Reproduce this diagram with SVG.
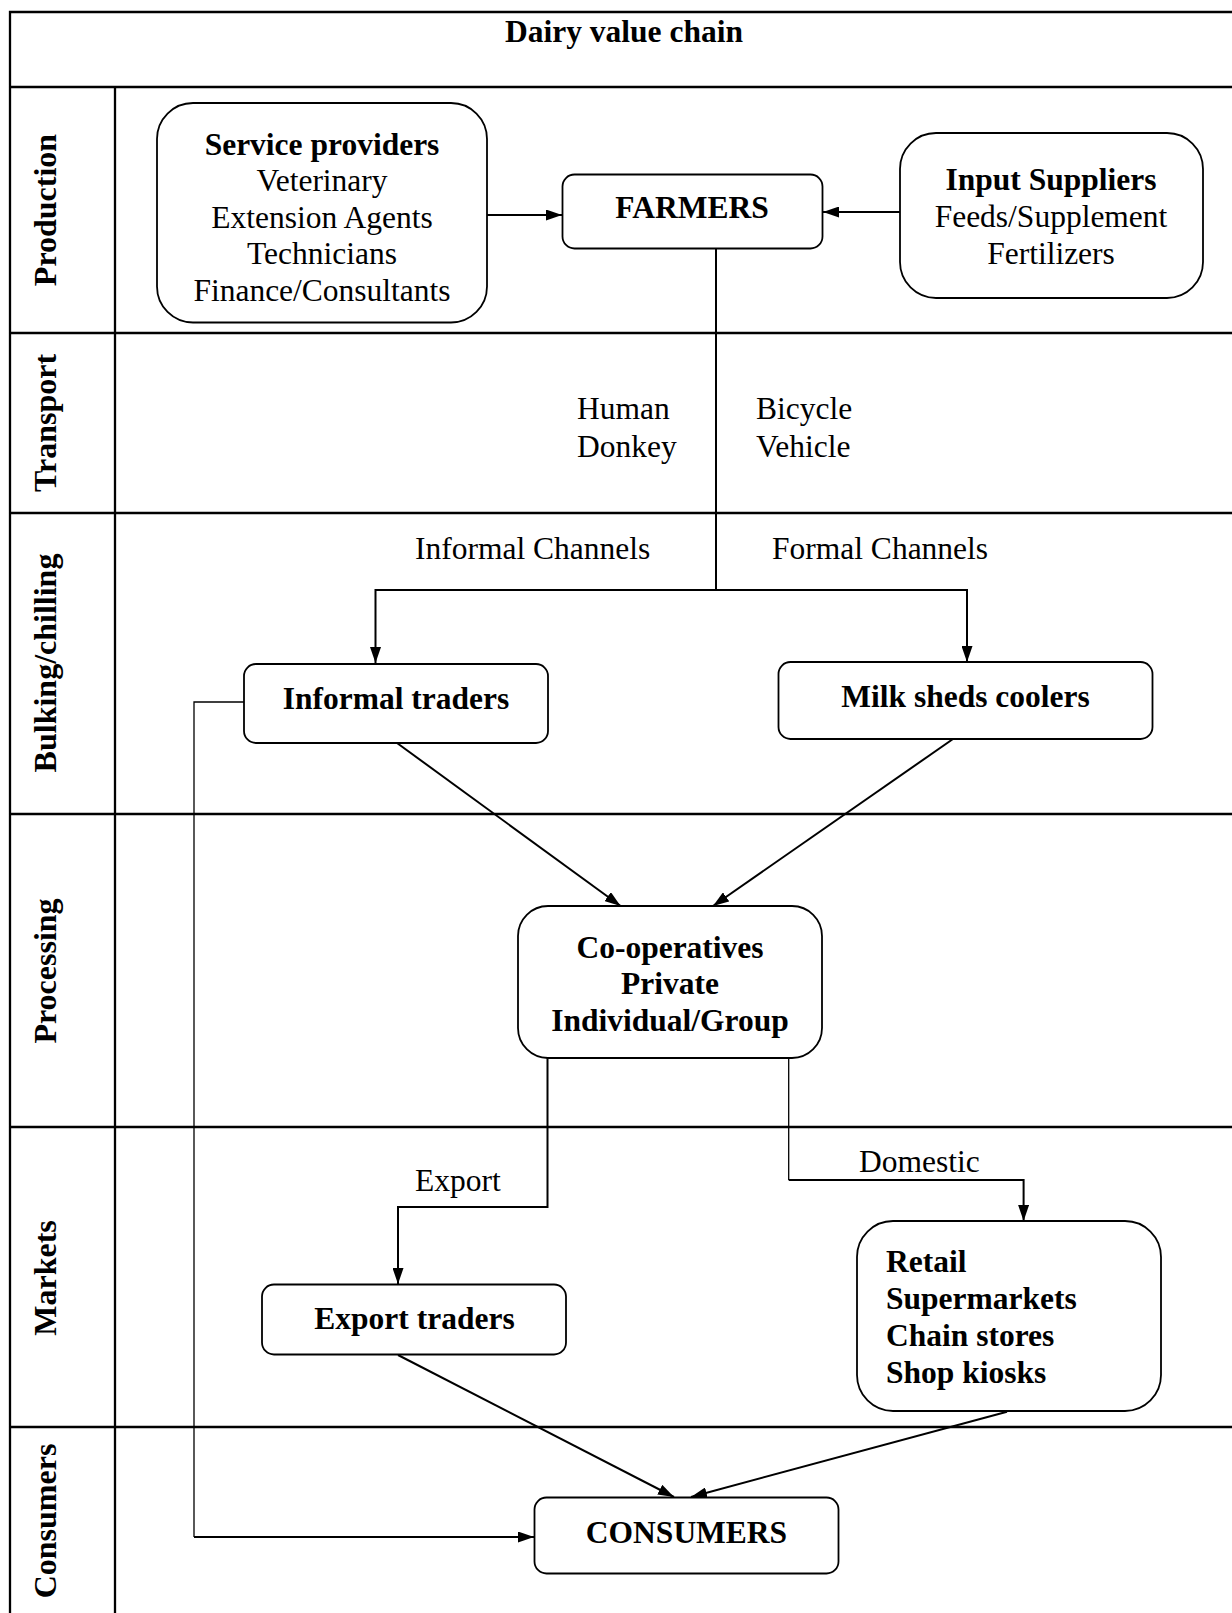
<svg xmlns="http://www.w3.org/2000/svg" width="1232" height="1613" viewBox="0 0 1232 1613">
<style>
text{font-family:"Liberation Serif","Times New Roman",serif;font-size:31.5px;fill:#000}
.b{font-weight:bold}
.c{text-anchor:middle}
.lane{font-weight:bold;text-anchor:middle;font-size:32px}
.grid{stroke:#000;stroke-width:2.3;fill:none}
.box{fill:#fff;stroke:#000;stroke-width:1.8}
.con{fill:none;stroke:#000;stroke-width:2}
.thin{stroke-width:1.3}
</style>
<defs>
<marker id="ah" viewBox="0 0 16 11" refX="16" refY="5.5" markerWidth="16" markerHeight="11" markerUnits="userSpaceOnUse" orient="auto">
<path d="M0,0 L16,5.5 L0,11 z" fill="#000"/>
</marker>
</defs>
<rect width="1232" height="1613" fill="#fff"/>
<g id="grid">
<path class="grid" d="M10,1613 V12 H1232 M10,87 H1232 M115,87 V1613 M10,333 H1232 M10,513 H1232 M10,814 H1232 M10,1127 H1232 M10,1427 H1232"/>
<text class="b c" x="624" y="42">Dairy value chain</text>
<text class="lane" transform="translate(56,210) rotate(-90)">Production</text>
<text class="lane" transform="translate(56,423) rotate(-90)">Transport</text>
<text class="lane" transform="translate(56,663) rotate(-90)">Bulking/chilling</text>
<text class="lane" transform="translate(56,971) rotate(-90)">Processing</text>
<text class="lane" transform="translate(56,1278) rotate(-90)">Markets</text>
<text class="lane" transform="translate(56,1521) rotate(-90)">Consumers</text>
</g>
<g id="connectors">
<path class="con" d="M487,215 H562" marker-end="url(#ah)"/>
<path class="con" d="M900,212 H823" marker-end="url(#ah)"/>
<path class="con" d="M716,248 V590"/>
<path class="con" d="M716,590 H375.5 V663" marker-end="url(#ah)"/>
<path class="con" d="M716,590 H967 V662" marker-end="url(#ah)"/>
<path class="con" d="M397,743 L620.6,906" marker-end="url(#ah)"/>
<path class="con" d="M953,739 L713,906" marker-end="url(#ah)"/>
<path class="con" d="M547.5,1058 V1207 H398 V1284" marker-end="url(#ah)"/>
<path class="con thin" d="M788.7,1058 V1180"/>
<path class="con" d="M788.7,1180 H1023.6 V1221" marker-end="url(#ah)"/>
<path class="con thin" d="M244,702 H194 V1537"/>
<path class="con" d="M194,1537 H534" marker-end="url(#ah)"/>
<path class="con" d="M398,1355 L674,1497" marker-end="url(#ah)"/>
<path class="con" d="M1007,1411.7 L691,1497" marker-end="url(#ah)"/>
<text x="577" y="419">Human</text>
<text x="577" y="457">Donkey</text>
<text x="756" y="419">Bicycle</text>
<text x="756" y="457">Vehicle</text>
<text x="415" y="559">Informal Channels</text>
<text x="772" y="559">Formal Channels</text>
<text x="415" y="1191">Export</text>
<text x="859" y="1172">Domestic</text>
</g>
<g id="service-providers">
<rect class="box" x="157" y="103" width="330" height="219.5" rx="36"/>
<text class="b c" x="322" y="155">Service providers</text>
<text class="c" x="322" y="191">Veterinary</text>
<text class="c" x="322" y="228">Extension Agents</text>
<text class="c" x="322" y="264">Technicians</text>
<text class="c" x="322" y="301">Finance/Consultants</text>
</g>
<g id="farmers">
<rect class="box" x="562.5" y="174.5" width="260" height="74" rx="12"/>
<text class="b c" x="692" y="218">FARMERS</text>
</g>
<g id="input-suppliers">
<rect class="box" x="900" y="133" width="303" height="165" rx="36"/>
<text class="b c" x="1051" y="190">Input Suppliers</text>
<text class="c" x="1051" y="227">Feeds/Supplement</text>
<text class="c" x="1051" y="264">Fertilizers</text>
</g>
<g id="informal-traders">
<rect class="box" x="244" y="664" width="304" height="79" rx="12"/>
<text class="b c" x="396" y="709">Informal traders</text>
</g>
<g id="milk-sheds-coolers">
<rect class="box" x="778.5" y="662" width="374" height="77" rx="12"/>
<text class="b c" x="965.5" y="707">Milk sheds coolers</text>
</g>
<g id="processors">
<rect class="box" x="518" y="906" width="304" height="152" rx="30"/>
<text class="b c" x="670" y="958">Co-operatives</text>
<text class="b c" x="670" y="994">Private</text>
<text class="b c" x="670" y="1031">Individual/Group</text>
</g>
<g id="export-traders">
<rect class="box" x="262" y="1284.5" width="304" height="70" rx="12"/>
<text class="b c" x="414.5" y="1329">Export traders</text>
</g>
<g id="retail">
<rect class="box" x="857" y="1221" width="304" height="190" rx="36"/>
<text class="b" x="886" y="1272">Retail</text>
<text class="b" x="886" y="1309">Supermarkets</text>
<text class="b" x="886" y="1346">Chain stores</text>
<text class="b" x="886" y="1383">Shop kiosks</text>
</g>
<g id="consumers">
<rect class="box" x="534.5" y="1497.5" width="304" height="76" rx="12"/>
<text class="b c" x="686.5" y="1543">CONSUMERS</text>
</g>
</svg>
